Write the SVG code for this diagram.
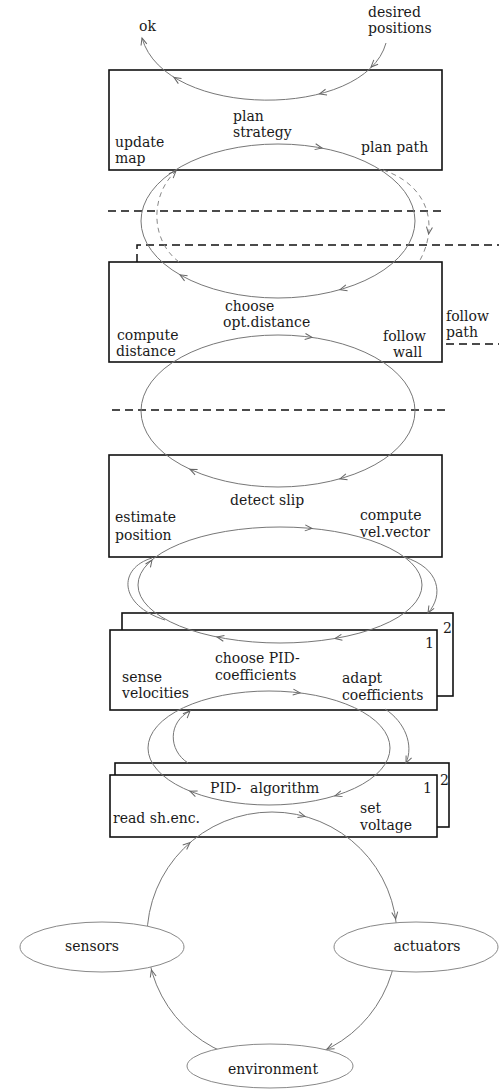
<svg xmlns="http://www.w3.org/2000/svg" xmlns:xlink="http://www.w3.org/1999/xlink" width="499" height="1090" viewBox="0 0 499 1090">
<style>
.box{fill:#fff;stroke:#111;stroke-width:1.6}
.arc{fill:none;stroke:#777;stroke-width:1}
.darc{fill:none;stroke:#888;stroke-width:1;stroke-dasharray:5,4}
.sep{fill:none;stroke:#111;stroke-width:1.5;stroke-dasharray:8,5}
.node{fill:#fff;stroke:#888;stroke-width:1}
text{font-family:"DejaVu Serif",serif;font-size:14px;fill:#1a1a1a}
.mid{text-anchor:middle}
</style>
<defs>
<path id="ah" d="M-7,-3 L0,0 L-7,3" fill="none" stroke="#666" stroke-width="1"/>
</defs>
<rect width="499" height="1090" fill="#fff"/>

<g id="plan">
<rect class="box" x="109" y="70" width="333" height="100"/>
<text x="233" y="121">plan</text>
<text x="233" y="137">strategy</text>
<text x="115" y="147">update</text>
<text x="115" y="163">map</text>
<text x="361" y="152">plan path</text>
</g>
<g id="follow">
<rect class="box" x="109" y="262" width="333" height="100"/>
<text x="225" y="311">choose</text>
<text x="223" y="327">opt.distance</text>
<text x="117" y="340">compute</text>
<text x="116" y="356">distance</text>
<text x="383" y="341">follow</text>
<text x="393" y="357">wall</text>
</g>
<g id="follow-path">
<text x="446" y="321">follow</text>
<text x="446" y="337">path</text>
</g>
<g id="slip">
<rect class="box" x="109" y="455" width="333" height="102"/>
<text x="230" y="505">detect slip</text>
<text x="115" y="522">estimate</text>
<text x="115" y="540">position</text>
<text x="360" y="520">compute</text>
<text x="360" y="537">vel.vector</text>
</g>
<g id="pid-coeff">
<rect class="box" x="122" y="613" width="331" height="83"/>
<rect class="box" x="110" y="630" width="327" height="80"/>
<text x="443" y="633">2</text>
<text x="425" y="648">1</text>
<text x="215" y="663">choose PID-</text>
<text x="215" y="680">coefficients</text>
<text x="122" y="682">sense</text>
<text x="122" y="698">velocities</text>
<text x="342" y="683">adapt</text>
<text x="342" y="700">coefficients</text>
</g>
<g id="pid-alg">
<rect class="box" x="115" y="763" width="334" height="64"/>
<rect class="box" x="110" y="775" width="327" height="62"/>
<text x="440" y="785">2</text>
<text x="423" y="793">1</text>
<text x="210" y="793" style="white-space:pre">PID-  algorithm</text>
<text x="113" y="823">read sh.enc.</text>
<text x="360" y="813">set</text>
<text x="360" y="830">voltage</text>
</g>

<g id="top-labels">
<text x="139" y="31">ok</text>
<text x="368" y="17">desired</text>
<text x="368" y="33">positions</text>
</g>

<g id="separators">
<path class="sep" d="M108,211 H445"/>
<path class="sep" d="M137,262 V245 H499"/>
<path class="sep" d="M446,344 H499"/>
<path class="sep" d="M112,410 H448"/>
</g>

<g id="connectors">
<path class="arc" d="M386,43 C365,120 165,120 142,38"/>
<use xlink:href="#ah" transform="translate(371,67) rotate(135)"/>
<use xlink:href="#ah" transform="translate(319.5,93.9) rotate(165.6)"/>
<use xlink:href="#ah" transform="translate(174,77.4) rotate(212)"/>
<use xlink:href="#ah" transform="translate(142,38) rotate(254)"/>

<ellipse class="arc" cx="278" cy="221" rx="137" ry="77"/>
<use xlink:href="#ah" transform="translate(322,148) rotate(10.8)"/>
<use xlink:href="#ah" transform="translate(340,289.7) rotate(164)"/>
<use xlink:href="#ah" transform="translate(180,274.8) rotate(210)"/>

<path class="darc" d="M383,170 C428,185 440,225 419,262"/>
<use xlink:href="#ah" transform="translate(428.6,234) rotate(97)"/>
<path class="darc" d="M179,262 C150,240 150,195 176,171"/>
<use xlink:href="#ah" transform="translate(176,171) rotate(-45)"/>

<ellipse class="arc" cx="278" cy="411" rx="137" ry="76"/>
<use xlink:href="#ah" transform="translate(312,337.4) rotate(8)"/>
<use xlink:href="#ah" transform="translate(340,478.8) rotate(164)"/>
<use xlink:href="#ah" transform="translate(190,469.2) rotate(205)"/>

<ellipse class="arc" cx="280" cy="585" rx="142" ry="58"/>
<use xlink:href="#ah" transform="translate(312,528.5) rotate(5)"/>
<use xlink:href="#ah" transform="translate(335,638.5) rotate(170)"/>
<use xlink:href="#ah" transform="translate(217,637) rotate(191)"/>
<use xlink:href="#ah" transform="translate(152,560) rotate(-55)"/>
<path class="arc" d="M165,620 C118,605 118,568 152,558"/>
<path class="arc" d="M404,557 C440,568 444,595 428,613"/>
<use xlink:href="#ah" transform="translate(428,613) rotate(120)"/>

<ellipse class="arc" cx="269" cy="748" rx="121" ry="57"/>
<use xlink:href="#ah" transform="translate(300,692.9) rotate(7)"/>
<use xlink:href="#ah" transform="translate(335,795.8) rotate(163)"/>
<use xlink:href="#ah" transform="translate(190,791.2) rotate(202)"/>
<path class="arc" d="M188,763 C168,750 168,722 190,711"/>
<use xlink:href="#ah" transform="translate(190,711) rotate(-45)"/>
<path class="arc" d="M385,709 C405,722 414,745 406,763"/>
<use xlink:href="#ah" transform="translate(406,763) rotate(114)"/>

<circle class="arc" cx="272" cy="937" r="125"/>
<use xlink:href="#ah" transform="translate(190,842.6) rotate(-41)"/>
<use xlink:href="#ah" transform="translate(305,816.4) rotate(15)"/>
<use xlink:href="#ah" transform="translate(395.7,919) rotate(82)"/>
<use xlink:href="#ah" transform="translate(327,1049.2) rotate(154)"/>
<use xlink:href="#ah" transform="translate(151.4,970) rotate(-105)"/>
</g>

<g id="sensors">
<ellipse class="node" cx="102" cy="947" rx="82" ry="25"/>
<text class="mid" x="92" y="951">sensors</text>
</g>
<g id="actuators">
<ellipse class="node" cx="416" cy="947" rx="82" ry="25"/>
<text class="mid" x="427" y="951">actuators</text>
</g>
<g id="environment">
<ellipse class="node" cx="270" cy="1066" rx="83" ry="22"/>
<text class="mid" x="273" y="1074">environment</text>
</g>
</svg>
